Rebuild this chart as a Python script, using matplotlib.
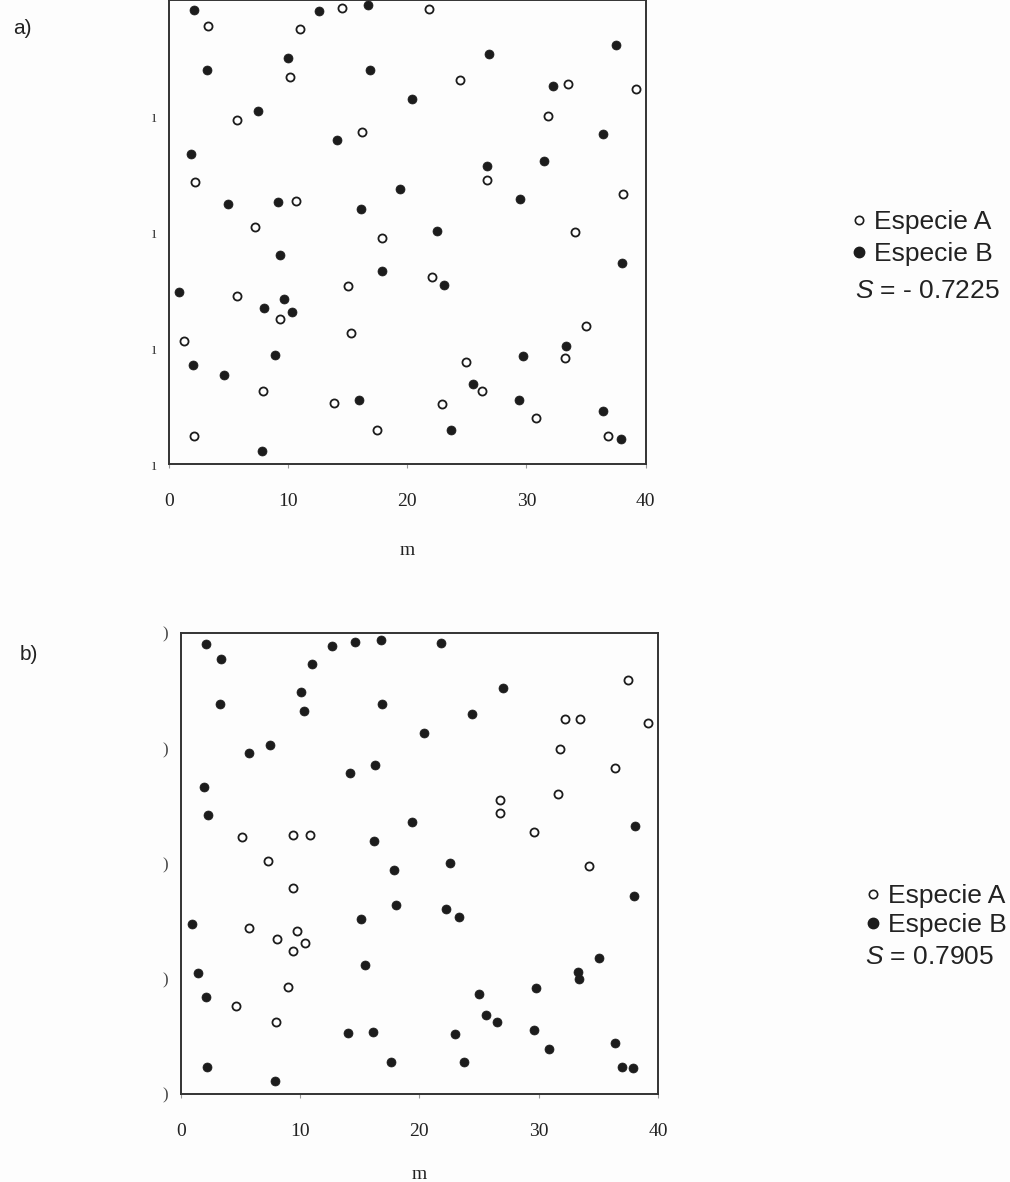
import matplotlib
matplotlib.use("Agg")
import matplotlib.pyplot as plt
from matplotlib.lines import Line2D

plt.rcParams['mathtext.fontset'] = 'custom'
plt.rcParams['mathtext.it'] = 'Liberation Sans:italic'
plt.rcParams['mathtext.rm'] = 'Liberation Sans'

# Panel a) - species positions (m)
a_A_x = [3.3, 14.5, 11.0, 21.8, 10.2, 24.4, 33.5, 39.2, 31.8, 5.7, 16.2, 2.2, 26.7, 38.1, 10.7,
         7.2, 17.9, 34.1, 22.1, 15.0, 5.7, 9.3, 15.3, 1.3, 35.0, 33.2, 24.9, 26.3, 7.9, 13.9,
         22.9, 30.8, 17.5, 36.8, 2.1]
a_A_y = [37.7, 39.3, 37.5, 39.2, 33.3, 33.1, 32.7, 32.3, 30.0, 29.6, 28.6, 24.3, 24.5, 23.3, 22.7,
         20.4, 19.5, 20.0, 16.1, 15.3, 14.5, 12.5, 11.3, 10.6, 11.9, 9.1, 8.8, 6.3, 6.3, 5.3,
         5.2, 4.0, 2.9, 2.4, 2.4]
a_B_x = [2.1, 12.6, 16.7, 10.0, 3.2, 16.9, 26.9, 37.5, 32.2, 20.4, 7.5, 36.4, 14.1, 1.9, 26.7,
         31.5, 19.4, 29.5, 5.0, 9.2, 16.1, 22.5, 9.3, 17.9, 23.1, 38.0, 0.9, 9.7, 8.0, 10.3,
         8.9, 2.0, 4.6, 33.3, 29.7, 25.5, 16.0, 29.4, 36.4, 23.7, 37.9, 7.8]
a_B_y = [39.1, 39.0, 39.5, 35.0, 33.9, 33.9, 35.3, 36.1, 32.6, 31.4, 30.4, 28.4, 27.9, 26.7, 25.7,
         26.1, 23.7, 22.8, 22.4, 22.6, 22.0, 20.1, 18.0, 16.6, 15.4, 17.3, 14.8, 14.2, 13.4, 13.1,
         9.4, 8.5, 7.7, 10.2, 9.3, 6.9, 5.5, 5.5, 4.6, 2.9, 2.2, 1.1]

# Panel b)
b_A_x = [37.5, 32.2, 33.5, 39.2, 31.8, 36.4, 31.6, 26.8, 26.8, 29.6, 5.1, 9.4, 10.8, 7.3, 34.2,
         9.4, 5.7, 9.7, 8.1, 10.4, 9.4, 9.0, 4.6, 8.0]
b_A_y = [35.9, 32.5, 32.5, 32.2, 29.9, 28.3, 26.0, 25.5, 24.4, 22.7, 22.3, 22.5, 22.5, 20.2, 19.8,
         17.9, 14.4, 14.1, 13.4, 13.1, 12.4, 9.3, 7.6, 6.2]
b_B_x = [2.1, 3.4, 12.7, 14.6, 16.8, 21.8, 11.0, 10.1, 3.3, 10.3, 16.9, 27.0, 24.4, 20.4, 7.5,
         5.7, 16.3, 14.2, 1.9, 2.3, 19.4, 38.1, 16.2, 22.6, 17.9, 38.0, 18.0, 22.2, 23.3, 15.1,
         0.9, 35.1, 15.4, 33.3, 33.4, 1.4, 29.8, 25.0, 2.1, 25.6, 26.5, 29.6, 14.0, 16.1, 23.0,
         36.4, 30.9, 17.6, 23.7, 37.0, 37.9, 2.2, 7.9]
b_B_y = [39.0, 37.7, 38.9, 39.2, 39.4, 39.1, 37.3, 34.9, 33.8, 33.2, 33.8, 35.2, 33.0, 31.3, 30.3,
         29.6, 28.5, 27.8, 26.6, 24.2, 23.6, 23.2, 21.9, 20.0, 19.4, 17.2, 16.4, 16.0, 15.3, 15.2,
         14.7, 11.8, 11.2, 10.6, 10.0, 10.5, 9.2, 8.7, 8.4, 6.8, 6.2, 5.5, 5.3, 5.4, 5.2,
         4.4, 3.9, 2.8, 2.8, 2.3, 2.2, 2.3, 1.1]

xticks = [0, 10, 20, 30, 40]
a_ylabels = ['ı', 'ı', 'ı', 'ı', '']
b_ylabels = [')', ')', ')', ')', ')']
S_a = '$S$ = - 0.7225'
S_b = '$S$ = 0.7905'

ink = '#1c1c1c'
fig = plt.figure(figsize=(10.1, 11.82), dpi=100)
fig.patch.set_facecolor('#fdfdfd')


def panel(rect, ax_, ay_, bx_, by_, ylabels, lpad):
    ax = fig.add_axes(rect)
    ax.set_facecolor('none')
    ax.scatter(ax_, ay_, s=34, facecolors='white', edgecolors=ink, linewidths=1.3,
               clip_on=False, zorder=3)
    ax.scatter(bx_, by_, s=42, color=ink, edgecolors=ink, linewidths=0.5,
               clip_on=False, zorder=3)
    ax.set_xlim(0, 40)
    ax.set_ylim(0, 40)
    ax.set_xticks(xticks)
    ax.set_xticklabels([str(t) for t in xticks], family='Liberation Serif', fontsize=14,
                       color='#222222')
    ax.set_yticks(xticks)
    ax.set_yticklabels(ylabels, family='Liberation Serif', fontsize=12, color='#444444')
    ax.tick_params(axis='x', length=3, width=0.8, color='#999999', pad=18)
    ax.tick_params(axis='y', length=0, pad=9)
    for sp in ax.spines.values():
        sp.set_color('#333333')
        sp.set_linewidth(1.4)
    ax.set_xlabel('m', family='Liberation Serif', fontsize=14, color='#222222', labelpad=lpad)
    return ax


ax1 = panel([0.167, 0.6074, 0.4723, 0.3929], a_A_x, a_A_y, a_B_x, a_B_y, a_ylabels, 23)
ax2 = panel([0.1791, 0.0746, 0.4723, 0.3900], b_A_x, b_A_y, b_B_x, b_B_y, b_ylabels, 19)

# panel letters
fig.text(22 / 1010, 1 - 28 / 1182, 'a)', family='Liberation Sans', fontsize=15,
         ha='center', va='center', color='#222222')
fig.text(29 / 1010, 1 - 655 / 1182, 'b)', family='Liberation Sans', fontsize=15,
         ha='center', va='center', color='#222222')

# legends
handles = [Line2D([], [], ls='none', marker='o', ms=6, mfc='white', mec=ink, mew=1.2),
           Line2D([], [], ls='none', marker='o', ms=7.5, mfc=ink, mec=ink)]
labels = ['Especie A', 'Especie B']
legs = [(851, 210, 0.30, 855, 291, S_a), (865, 884, 0.18, 865, 957, S_b)]
for (lx, ly, lsp, sx, sy, stext) in legs:
    fig.legend(handles, labels, loc='upper left', bbox_to_anchor=(lx / 1010, 1 - ly / 1182),
               frameon=False, prop={'family': 'Liberation Sans', 'size': 19},
               handlelength=0.6, handletextpad=0.27, labelspacing=lsp, borderpad=0,
               borderaxespad=0, labelcolor='#222222')
    fig.text(sx / 1010, 1 - sy / 1182, stext, family='Liberation Sans', fontsize=19,
             ha='left', va='center', color='#222222')

fig.savefig('out.png', dpi=100, facecolor=fig.get_facecolor())
